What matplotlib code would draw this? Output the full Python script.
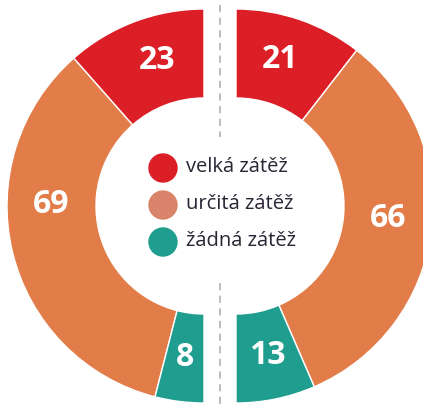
import matplotlib.pyplot as plt
import numpy as np

categories = ['velká zátěž', 'určitá zátěž', 'žádná zátěž']
left_values = [23, 69, 8]
right_values = [21, 66, 13]

colors = ['#dc1f26', '#e27d4a', '#1f9d8f']
legend_colors = ['#dc1f26', '#d9846a', '#1f9d8f']

W, H = 423, 407
R_OUT, R_IN = 197, 108
CY = 201
LEFT_CX, RIGHT_CX = 204, 236

fig = plt.figure(figsize=(W / 100, H / 100), dpi=100)
ax = fig.add_axes([0, 0, 1, 1])


def half_donut(values, cx, counterclock, label_shift):
    frac = np.array(values, dtype=float) / (2 * sum(values))
    ax.pie(frac, colors=colors, startangle=90, counterclock=counterclock,
           normalize=False, radius=R_OUT, center=(cx, CY),
           wedgeprops=dict(width=R_OUT - R_IN, edgecolor='white', linewidth=1))
    # value labels in the middle of each ring segment
    sign = 1 if counterclock else -1
    start = 90.0
    for v, f, shift in zip(values, frac, label_shift):
        mid = start + sign * f * 180
        ang = np.deg2rad(mid + shift)
        r = 153
        ax.text(cx + r * np.cos(ang), CY + r * np.sin(ang), str(v),
                ha='center', va='center', color='white', fontsize=23,
                fontweight='bold', family='Open Sans')
        start += sign * f * 360


half_donut(left_values, LEFT_CX, True, [-3, -14, 0])
half_donut(right_values, RIGHT_CX, False, [2, 2.5, 0])

# dashed divider between the two halves
ax.plot([220, 220], [H - 5, H - 137], color='#b8b8b8', lw=1.3, ls=(0, (4, 3)))
ax.plot([220, 220], [H - 283, 0], color='#b8b8b8', lw=1.3, ls=(0, (4, 3)))

# legend in the middle
for i, (name, c) in enumerate(zip(categories, legend_colors)):
    y = H - (168 + 37 * i)
    ax.add_patch(plt.Circle((163, y), 14, color=c))
    ax.text(186, y + 1, name, ha='left', va='center', fontsize=14.5,
            color='#2a2433', family='Open Sans')

ax.set_xlim(0, W)
ax.set_ylim(0, H)
ax.set_aspect('equal')
ax.axis('off')

fig.savefig('out.png', dpi=100)
